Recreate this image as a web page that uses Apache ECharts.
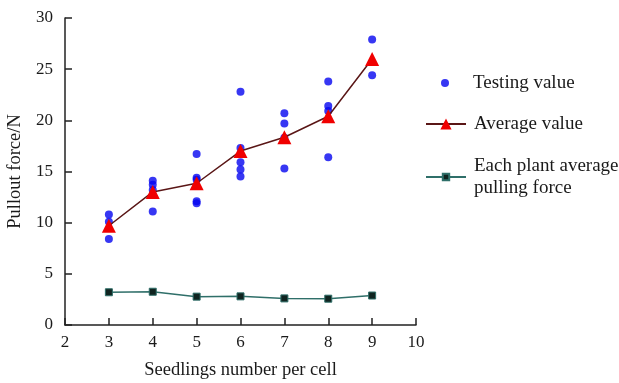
<!DOCTYPE html>
<html>
<head>
<meta charset="utf-8">
<script src="https://cdn.jsdelivr.net/npm/echarts@6/dist/echarts.min.js"></script>
<style>
  html, body { margin: 0; padding: 0; background: #fff; }
  #chart { width: 619px; height: 383px; }
</style>
</head>
<body>
<div id="chart"></div>
<script>
// seedlings per cell
const seedlings = [3, 4, 5, 6, 7, 8, 9];
// individual test readings (x, force)
const testX = [3, 3, 3, 4, 4, 4, 4, 5, 5, 5, 5, 5, 6, 6, 6, 6, 6, 7, 7, 7, 7, 8, 8, 8, 8, 9, 9];
const testY = [10.8, 10.1, 8.4, 14.1, 13.7, 13.2, 11.1, 16.7, 14.4, 14.2, 12.1, 11.9, 22.8, 17.3, 15.9, 15.2, 14.5, 20.7, 19.7, 18.3, 15.3, 23.8, 21.4, 20.9, 16.4, 27.9, 24.4];
const averageValue = [9.7, 13.0, 13.85, 17.0, 18.35, 20.4, 26.0];
const perPlantAverage = [3.2, 3.25, 2.77, 2.8, 2.6, 2.57, 2.88];

const FONT = 'Liberation Serif';
const TXT = '#1a1a1a';

const chart = echarts.init(document.getElementById('chart'));

const axisCommon = {
    axisLine: { show: true, lineStyle: { color: '#222', width: 1.5 } },
    axisTick: { show: true, inside: true, length: 7, lineStyle: { color: '#222', width: 1.5 } },
    splitLine: { show: false },
    axisLabel: { color: TXT, fontFamily: FONT, fontSize: 17 },
    nameTextStyle: { color: TXT, fontFamily: FONT, fontSize: 18.5 }
};

const legendText = { color: TXT, fontFamily: FONT, fontSize: 19, lineHeight: 22, padding: [0, 0, 0, 3] };

chart.setOption({
    animation: false,
    grid: { left: 65, right: 203, top: 18, bottom: 58, outerBoundsMode: 'none', containLabel: false },
    xAxis: Object.assign({}, axisCommon, {
        type: 'value',
        min: 2, max: 10, interval: 1,
        name: 'Seedlings number per cell',
        nameLocation: 'middle',
        nameGap: 36,
        axisLabel: Object.assign({}, axisCommon.axisLabel, { margin: 9 })
    }),
    yAxis: Object.assign({}, axisCommon, {
        type: 'value',
        min: 0, max: 30, interval: 5,
        name: 'Pullout force/N',
        nameLocation: 'middle',
        nameGap: 31,
        axisLabel: Object.assign({}, axisCommon.axisLabel, { margin: 12 })
    }),
    legend: [
        {
            data: [{ name: 'Testing value', icon: 'circle' }],
            left: 436, top: 67,
            itemWidth: 8, itemHeight: 8,
            textStyle: Object.assign({}, legendText, { padding: [0, 0, 0, 19] })
        },
        {
            data: ['Average value'],
            left: 420, top: 108,
            itemWidth: 40, itemHeight: 14,
            textStyle: legendText
        },
        {
            data: ['Each plant average\npulling force'],
            left: 420, top: 150,
            itemWidth: 40, itemHeight: 8,
            textStyle: legendText
        }
    ],
    series: [
        {
            name: 'Testing value',
            type: 'scatter',
            symbol: 'circle',
            symbolSize: 8,
            itemStyle: { color: '#0505f0' },
            data: testX.map((x, i) => [x, testY[i]]),
            z: 3
        },
        {
            name: 'Average value',
            type: 'line',
            symbol: 'triangle',
            symbolSize: 14,
            lineStyle: { color: '#5a1616', width: 1.5 },
            itemStyle: { color: '#f00000', borderWidth: 0 },
            data: seedlings.map((x, i) => [x, averageValue[i]]),
            z: 4
        },
        {
            name: 'Each plant average\npulling force',
            type: 'line',
            symbol: 'rect',
            symbolSize: 7,
            lineStyle: { color: '#2f6f69', width: 1.5 },
            itemStyle: { color: '#102420', borderColor: '#2f6f69', borderWidth: 1 },
            data: seedlings.map((x, i) => [x, perPlantAverage[i]]),
            z: 4
        }
    ]
});
</script>
</body>
</html>
